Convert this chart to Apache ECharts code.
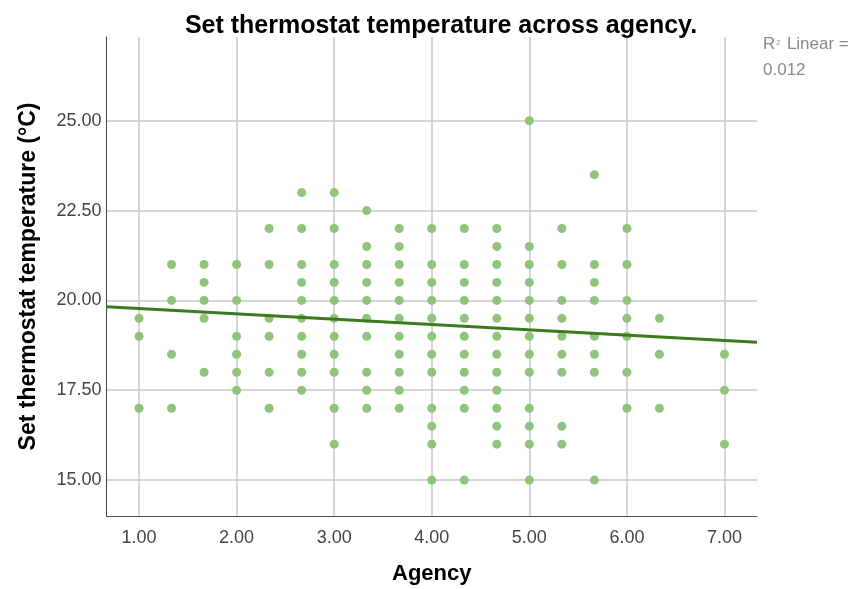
<!DOCTYPE html>
<html>
<head>
<meta charset="utf-8">
<script src="https://cdn.jsdelivr.net/npm/echarts@6/dist/echarts.min.js"></script>
<style>
  html, body { margin: 0; padding: 0; background: #ffffff; }
  #chart { width: 853px; height: 589px; }
</style>
</head>
<body>
<div id="chart"></div>
<script>
// Agency score levels (x) and the set temperatures observed at each level (y, °C)
const agencyLevels = [1.00, 4/3, 5/3, 2.00, 7/3, 8/3, 3.00, 10/3, 11/3, 4.00, 13/3, 14/3, 5.00, 16/3, 17/3, 6.00, 19/3, 7.00];

const temps_1_00 = [19.5, 19, 17];
const temps_1_33 = [21, 20, 18.5, 17];
const temps_1_67 = [21, 20.5, 20, 19.5, 18];
const temps_2_00 = [21, 20, 19, 18.5, 18, 17.5];
const temps_2_33 = [22, 21, 19.5, 19, 18, 17];
const temps_2_67 = [23, 22, 21, 20.5, 20, 19.5, 19, 18.5, 18, 17.5];
const temps_3_00 = [23, 22, 21, 20.5, 20, 19.5, 19, 18.5, 18, 17, 16];
const temps_3_33 = [22.5, 21.5, 21, 20.5, 20, 19.5, 19, 18, 17.5, 17];
const temps_3_67 = [22, 21.5, 21, 20.5, 20, 19.5, 19, 18.5, 18, 17.5, 17];
const temps_4_00 = [22, 21, 20.5, 20, 19.5, 19, 18.5, 18, 17, 16.5, 16, 15];
const temps_4_33 = [22, 21, 20.5, 20, 19.5, 19, 18.5, 18, 17.5, 17, 15];
const temps_4_67 = [22, 21.5, 21, 20.5, 20, 19.5, 19, 18.5, 18, 17.5, 17, 16.5, 16];
const temps_5_00 = [25, 21.5, 21, 20.5, 20, 19.5, 19, 18.5, 18, 17, 16.5, 16, 15];
const temps_5_33 = [22, 21, 20, 19.5, 19, 18.5, 18, 16.5, 16];
const temps_5_67 = [23.5, 21, 20.5, 20, 19, 18.5, 18, 15];
const temps_6_00 = [22, 21, 20, 19.5, 19, 18, 17];
const temps_6_33 = [19.5, 18.5, 17];
const temps_7_00 = [18.5, 17.5, 16];

const tempsByLevel = [
  temps_1_00, temps_1_33, temps_1_67, temps_2_00, temps_2_33, temps_2_67,
  temps_3_00, temps_3_33, temps_3_67, temps_4_00, temps_4_33, temps_4_67,
  temps_5_00, temps_5_33, temps_5_67, temps_6_00, temps_6_33, temps_7_00
];

// Axis ticks
const xTicks = [1, 2, 3, 4, 5, 6, 7];
const yTicks = [15, 17.5, 20, 22.5, 25];

// Linear fit: temperature = intercept + slope * agency
const fitIntercept = 19.92;
const fitSlope = -0.148;
const rSquaredText = '0.012';

const xMin = 2 / 3, xMax = 22 / 3;
const yMin = 14.0, yMax = 27.33;

const points = [];
agencyLevels.forEach((a, i) => {
  tempsByLevel[i].forEach(t => points.push([a, t]));
});
const fitLine = [xMin, xMax].map(x => [x, fitIntercept + fitSlope * x]);

const FONT = '"Liberation Sans", Arial, sans-serif';

const chart = echarts.init(document.getElementById('chart'), null, { renderer: 'canvas' });
chart.setOption({
  animation: false,
  backgroundColor: '#ffffff',
  title: {
    text: 'Set thermostat temperature across agency.',
    left: 436,
    top: 9,
    textAlign: 'center',
    textStyle: { fontFamily: FONT, fontSize: 25, fontWeight: 'bold', color: '#000000' }
  },
  grid: {
    left: 106.5, right: 96, top: 37, bottom: 73,
    containLabel: false,
    outerBoundsMode: 'none'
  },
  xAxis: {
    type: 'value',
    min: xMin,
    max: xMax,
    name: 'Agency',
    nameLocation: 'middle',
    nameGap: 47,
    nameTextStyle: { fontFamily: FONT, fontSize: 22, fontWeight: 'bold', color: '#000000' },
    axisLine: { show: true, onZero: false, lineStyle: { color: '#555555', width: 1 } },
    axisTick: { show: false, customValues: xTicks },
    axisLabel: {
      customValues: xTicks,
      formatter: v => v.toFixed(2),
      fontFamily: FONT, fontSize: 18, color: '#444444', margin: 13
    },
    splitLine: { show: true, lineStyle: { color: '#c9c9c9', width: 1.5 } }
  },
  yAxis: {
    type: 'value',
    min: yMin,
    max: yMax,
    name: 'Set thermostat temperature (°C)',
    nameLocation: 'middle',
    nameGap: 66,
    nameTextStyle: { fontFamily: FONT, fontSize: 23, fontWeight: 'bold', color: '#000000' },
    axisLine: { show: true, onZero: false, lineStyle: { color: '#444444', width: 1 } },
    axisTick: { show: false, customValues: yTicks },
    axisLabel: {
      customValues: yTicks,
      formatter: v => v.toFixed(2),
      fontFamily: FONT, fontSize: 18, color: '#444444', margin: 5
    },
    splitLine: { show: true, lineStyle: { color: '#c9c9c9', width: 1.5 } }
  },
  graphic: [{
    type: 'text',
    left: 763,
    top: 31,
    style: {
      text: 'R{sup|2} Linear =\n' + rSquaredText,
      fill: '#8a8a8a',
      font: '17px ' + FONT,
      lineHeight: 26,
      rich: {
        sup: { fontSize: 7, fill: '#8a8a8a', verticalAlign: 'middle', padding: [0, 2, 2, 1] }
      }
    }
  }],
  series: [
    {
      type: 'scatter',
      data: points,
      symbol: 'circle',
      symbolSize: 9,
      itemStyle: { color: '#90c47c', opacity: 1 },
      z: 3
    },
    {
      type: 'line',
      data: fitLine,
      showSymbol: false,
      symbol: 'none',
      lineStyle: { color: '#3c7a1e', width: 3 },
      z: 4
    }
  ]
});
</script>
</body>
</html>
